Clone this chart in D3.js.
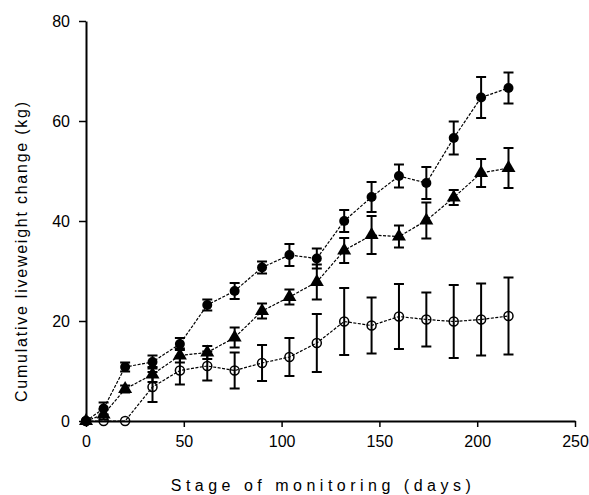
<!DOCTYPE html>
<html>
<head>
<meta charset="utf-8">
<script src="https://cdn.jsdelivr.net/npm/d3@7"></script>
<style>
  body { margin: 0; background: #fff; }
  svg { display: block; font-family: "Liberation Sans", Arial, sans-serif; }
</style>
</head>
<body>
<svg id="chart" width="589" height="495"></svg>
<script>
// days of monitoring
var days = [0, 9, 20, 34, 48, 62, 76, 90, 104, 118, 132, 146, 160, 174, 188, 202, 216];

// filled circles
var circleMean = [0, 2.5, 10.8, 11.8, 15.4, 23.2, 26.0, 30.7, 33.2, 32.5, 40.0, 44.8, 49.0, 47.6, 56.6, 64.7, 66.6];
var circleErr  = [0, 1.2, 0.9, 1.3, 1.2, 1.1, 1.6, 1.2, 2.2, 2.0, 2.2, 3.0, 2.3, 3.2, 3.3, 4.1, 3.1];

// filled triangles
var triMean = [0, 1.3, 6.4, 9.3, 13.1, 13.7, 16.7, 22.0, 24.8, 27.8, 34.1, 37.2, 36.9, 40.1, 44.7, 49.6, 50.6];
var triErr  = [0, 1.0, 0.7, 1.5, 1.4, 1.3, 2.0, 1.5, 1.5, 3.5, 2.5, 3.8, 2.2, 3.6, 1.5, 2.8, 4.0];

// open circles
var openMean = [0, 0, 0, 6.8, 10.1, 11.0, 10.1, 11.6, 12.8, 15.6, 19.9, 19.1, 20.9, 20.3, 19.9, 20.3, 21.0];
var openErr  = [0, 0, 0, 3.0, 2.8, 2.9, 3.6, 3.6, 3.8, 5.8, 6.7, 5.6, 6.5, 5.4, 7.3, 7.2, 7.7];

var xTicks = [0, 50, 100, 150, 200, 250];
var yTicks = [0, 20, 40, 60, 80];

var margin = {left: 86, top: 21, right: 14, bottom: 74};
var svg = d3.select("#chart");
var width = 589 - margin.left - margin.right;
var height = 495 - margin.top - margin.bottom;

var x = d3.scaleLinear().domain([0, 250]).range([0, width]);
var y = d3.scaleLinear().domain([0, 80]).range([height, 0]);

var g = svg.append("g").attr("transform", "translate(" + margin.left + "," + margin.top + ")");

// axes
var xAxis = g.append("g").attr("transform", "translate(0," + height + ")")
  .call(d3.axisBottom(x).tickValues(xTicks).tickSize(6).tickSizeOuter(0).tickPadding(9));
var yAxis = g.append("g")
  .call(d3.axisLeft(y).tickValues(yTicks).tickSize(7).tickSizeOuter(0).tickPadding(9));

[xAxis, yAxis].forEach(function(a){
  a.select(".domain").attr("stroke", "#000").attr("stroke-width", 2);
  a.selectAll(".tick line").attr("stroke", "#000").attr("stroke-width", 1.5);
  a.selectAll(".tick text").attr("fill", "#000").style("font-size", "16px")
   .style("font-family", "'Liberation Sans', Arial, sans-serif");
});

svg.append("text")
  .attr("x", margin.left + x(120)).attr("y", 491)
  .attr("text-anchor", "middle")
  .attr("textLength", 300).attr("lengthAdjust", "spacing")
  .style("font-size", "16px")
  .text("Stage of monitoring (days)");

svg.append("text")
  .attr("transform", "translate(27," + 252 + ") rotate(-90)")
  .attr("text-anchor", "middle")
  .attr("textLength", 300).attr("lengthAdjust", "spacing")
  .style("font-size", "16px")
  .text("Cumulative liveweight change (kg)");

function series(mean, err) {
  return days.map(function(d, i){ return {day: d, v: mean[i], e: err[i]}; });
}

var allSeries = [
  {name: "open", data: series(openMean, openErr)},
  {name: "tri", data: series(triMean, triErr)},
  {name: "circle", data: series(circleMean, circleErr)}
];

var line = d3.line().x(function(d){ return x(d.day); }).y(function(d){ return y(d.v); });

allSeries.forEach(function(s){
  var sg = g.append("g");
  sg.append("path").datum(s.data)
    .attr("d", line).attr("fill", "none")
    .attr("stroke", "#000").attr("stroke-width", 1.2)
    .attr("stroke-dasharray", "3,1.5");

  var eb = sg.selectAll(".eb").data(s.data.filter(function(d){ return d.e > 0; }))
    .enter().append("g");
  eb.append("line")
    .attr("x1", function(d){ return x(d.day); }).attr("x2", function(d){ return x(d.day); })
    .attr("y1", function(d){ return y(d.v - d.e); }).attr("y2", function(d){ return y(d.v + d.e); })
    .attr("stroke", "#000").attr("stroke-width", 2);
  [-1, 1].forEach(function(sgn){
    eb.append("line")
      .attr("x1", function(d){ return x(d.day) - 5; }).attr("x2", function(d){ return x(d.day) + 5; })
      .attr("y1", function(d){ return y(d.v + sgn * d.e); }).attr("y2", function(d){ return y(d.v + sgn * d.e); })
      .attr("stroke", "#000").attr("stroke-width", 2);
  });

  if (s.name == "open") {
    sg.selectAll(".m").data(s.data).enter().append("circle")
      .attr("cx", function(d){ return x(d.day); }).attr("cy", function(d){ return y(d.v); })
      .attr("r", 4.5).attr("fill", "none").attr("stroke", "#000").attr("stroke-width", 1.5);
  } else if (s.name == "tri") {
    sg.selectAll(".m").data(s.data).enter().append("path")
      .attr("transform", function(d){ return "translate(" + x(d.day) + "," + y(d.v) + ")"; })
      .attr("d", d3.symbol().type(d3.symbolTriangle).size(85))
      .attr("fill", "#000");
  } else {
    sg.selectAll(".m").data(s.data).enter().append("circle")
      .attr("cx", function(d){ return x(d.day); }).attr("cy", function(d){ return y(d.v); })
      .attr("r", 5).attr("fill", "#000");
  }
});
</script>
</body>
</html>
